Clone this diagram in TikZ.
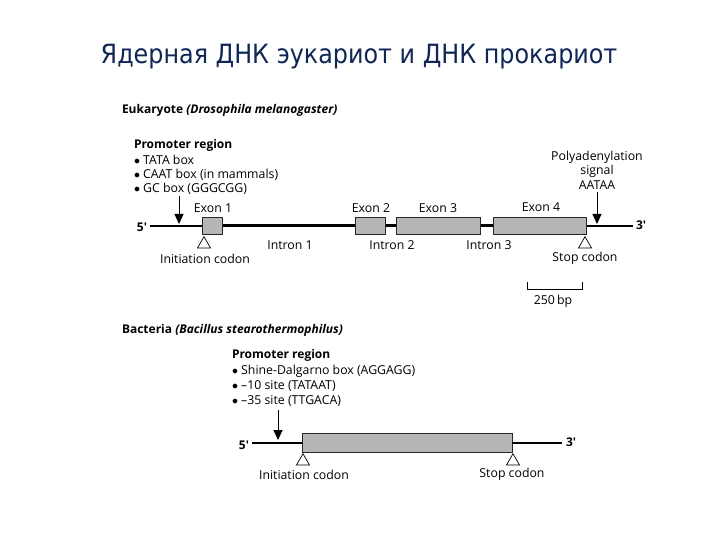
\documentclass[tikz,border=0pt]{standalone}
\usepackage{fontspec}
\setmainfont{Open Sans}
\newfontfamily\titlefont[FakeStretch=0.9]{DejaVu Sans}
\usetikzlibrary{arrows.meta,shapes.geometric}
\definecolor{titleblue}{RGB}{16,38,86}
\definecolor{exongray}{RGB}{182,182,182}
\newcommand{\mybul}{$\bullet$\ }
\newcommand{\pr}{\textquotesingle}
\tikzset{
  exonbox/.style={draw=black!85, line width=0.7pt, fill=exongray, inner sep=0pt, outer sep=0pt, minimum height=17pt},
  lbl/.style={inner sep=0pt, outer sep=0pt, font=\fontsize{12.3}{14}\selectfont},
  lblb/.style={lbl, font=\fontsize{12}{14}\selectfont\bfseries},
  codon/.style={draw=black, line width=0.7pt, fill=white, regular polygon, regular polygon sides=3, minimum size=15pt, inner sep=0pt, anchor=corner 1},
  pointer/.style={line width=1pt, -{Triangle[length=10pt,width=9pt]}},
  intron/.style={line width=3pt},
  flank/.style={line width=2pt},
  thinflank/.style={line width=1.6pt}
}
\begin{document}
\begin{tikzpicture}[x=1pt,y=-1pt]
\useasboundingbox (0,0) rectangle (720,540);
\fill[white] (0,0) rectangle (720,540);

% title
\node[text=titleblue, font=\titlefont\fontsize{26.5}{30}\selectfont, inner sep=0pt] (title) at (359,57) {Ядерная ДНК эукариот и ДНК прокариот};

% ===== Eukaryote =====
\node[lblb, anchor=west] (euk) at (122,110) {Eukaryote \textit{(Drosophila melanogaster)}};
\node[lblb, anchor=west] (prom1) at (134,145) {Promoter region};
\node[lbl, anchor=base west] (b1) at (134,164.5) {\mybul TATA box};
\node[lbl, anchor=base west] (b2) at (134,178.5) {\mybul CAAT box (in mammals)};
\node[lbl, anchor=base west] (b3) at (134,192.5) {\mybul GC box (GGGCGG)};

\coordinate (e5) at (150,226);
\coordinate (e3) at (633,226);
\path (212,226) node[exonbox, minimum width=20pt] (ex1) {}
      (370,226) node[exonbox, minimum width=30pt] (ex2) {}
      (438,226) node[exonbox, minimum width=84pt] (ex3) {}
      (539.5,226) node[exonbox, minimum width=93pt] (ex4) {};

\draw[flank] (e5) -- (ex1.west);
\draw[intron] (ex1.east) -- (ex2.west);
\draw[intron] (ex2.east) -- (ex3.west);
\draw[intron] (ex3.east) -- (ex4.west);
\draw[thinflank] (ex4.east) -- (e3);
% boxes again on top of the line ends
\path (212,226) node[exonbox, minimum width=20pt] {}
      (370,226) node[exonbox, minimum width=30pt] {}
      (438,226) node[exonbox, minimum width=84pt] {}
      (539.5,226) node[exonbox, minimum width=93pt] {};

\node[lblb, anchor=east] (p5a) at (147,227) {5\pr};
\node[lblb, anchor=west] (p3a) at (636,225) {3\pr};

\node[lbl] (lx1) at (213,208) {Exon 1};
\node[lbl] (lx2) at (371,208) {Exon 2};
\node[lbl] (lx3) at (438,208) {Exon 3};
\node[lbl] (lx4) at (541,207) {Exon 4};
\node[lbl] (li1) at (290,245) {Intron 1};
\node[lbl] (li2) at (392,245) {Intron 2};
\node[lbl] (li3) at (489,245) {Intron 3};

\coordinate (pa1) at (179,196);
\coordinate (pa2) at (179,224);
\draw[pointer] (pa1) -- (pa2);

\node[codon] (t1) at (204,236) {};
\node[lbl] (ic1) at (205,259) {Initiation codon};
\node[codon] (t2) at (585,236) {};
\node[lbl] (sc1) at (585,258) {Stop codon};

\node[lbl] (poly1) at (597,157) {Polyadenylation};
\node[lbl] (poly2) at (597,171) {signal};
\node[lbl] (poly3) at (597,185) {AATAA};
\coordinate (pb1) at (597,192);
\coordinate (pb2) at (597,224);
\draw[pointer] (pb1) -- (pb2);

% scale bar
\coordinate (s1) at (527,282);
\coordinate (s2) at (582,282);
\draw[line width=1pt] (s1) -- ++(0,7) -| (s2);
\node[lbl] (scale) at (553,301) {250\,bp};

% ===== Bacteria =====
\node[lblb, anchor=west] (bac) at (122,330) {Bacteria \textit{(Bacillus stearothermophilus)}};
\node[lblb, anchor=west] (prom2) at (232,355) {Promoter region};
\node[lbl, anchor=base west] (c1) at (232,374.5) {\mybul Shine-Dalgarno box (AGGAGG)};
\node[lbl, anchor=base west] (c2) at (232,389.5) {\mybul –10 site (TATAAT)};
\node[lbl, anchor=base west] (c3) at (232,404.5) {\mybul –35 site (TTGACA)};

\coordinate (b5) at (252,443);
\coordinate (b3e) at (562,443);
\node[exonbox, minimum width=210pt, minimum height=19pt] (gene) at (407,443) {};
\draw[line width=1.6pt] (b5) -- (gene.west);
\draw[line width=1.6pt] (gene.east) -- (b3e);
\node[lblb, anchor=east] (p5b) at (249,445) {5\pr};
\node[lblb, anchor=west] (p3b) at (566,442) {3\pr};

\coordinate (pc1) at (278,410);
\coordinate (pc2) at (278,440);
\draw[pointer] (pc1) -- (pc2);

\node[codon] (t3) at (303,453) {};
\node[lbl] (ic2) at (304,475) {Initiation codon};
\node[codon] (t4) at (513,453) {};
\node[lbl] (sc2) at (512,474) {Stop codon};
\end{tikzpicture}
\end{document}
